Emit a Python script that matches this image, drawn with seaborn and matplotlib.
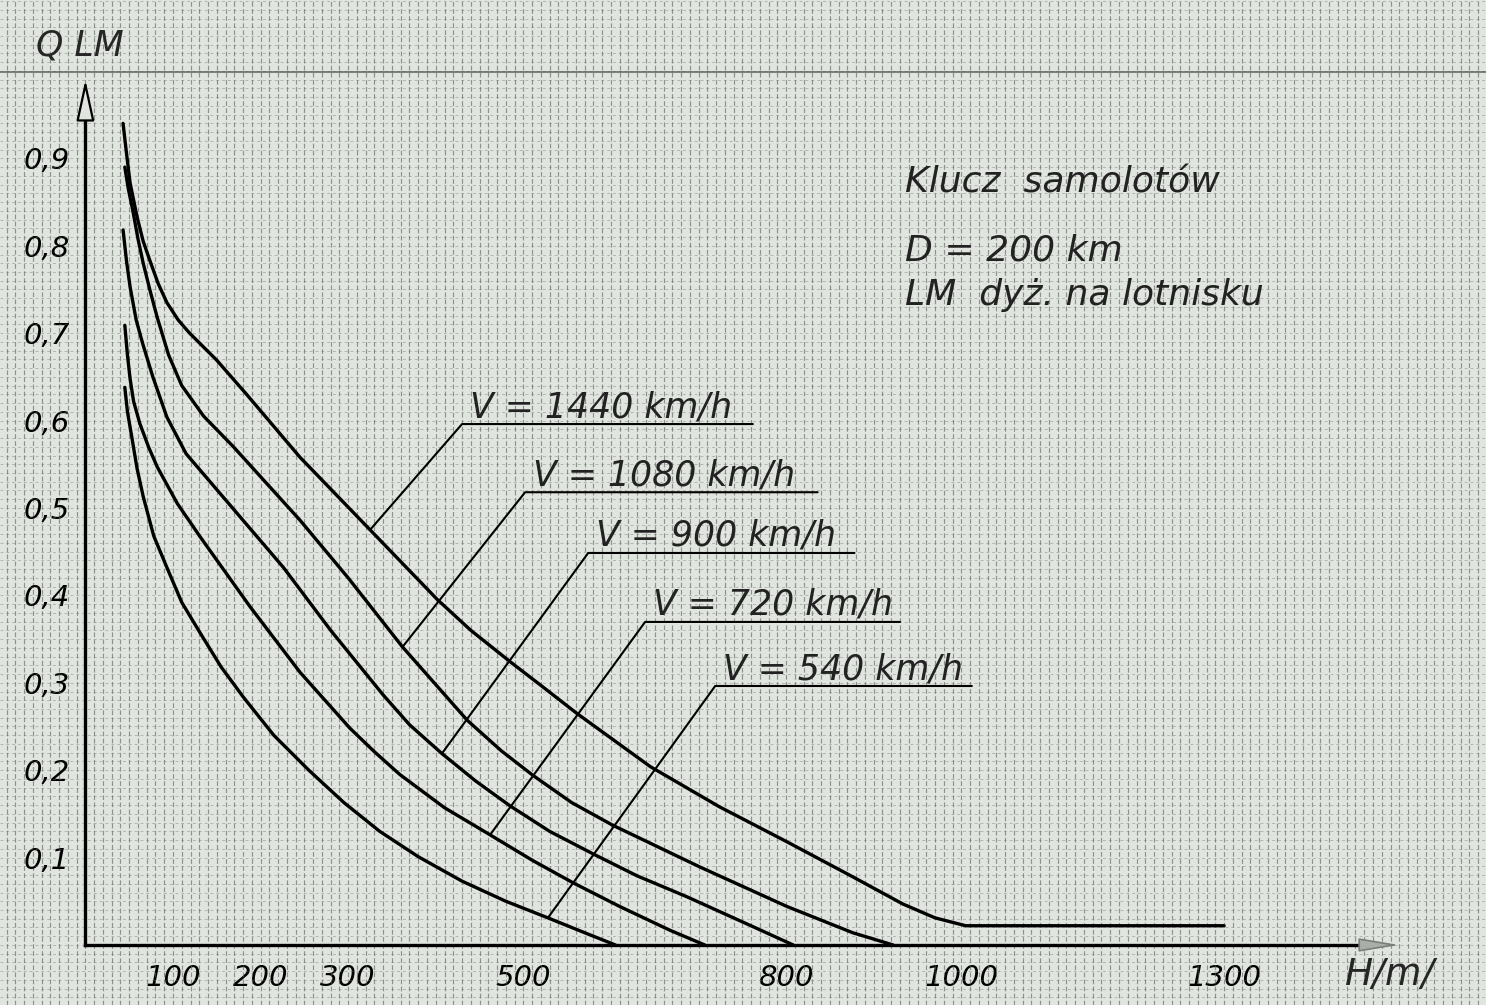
import numpy as np
import pandas as pd
import seaborn as sns
import matplotlib.pyplot as plt
from matplotlib.ticker import MultipleLocator

# Q_LM against H [m], one curve per aircraft speed
h_1440 = [43, 47, 51, 59, 66, 74, 83, 93, 106, 119, 150, 184, 245, 325, 402, 440, 485, 520, 561, 645, 724,
          801, 876, 933, 970, 1005, 1300]
q_1440 = [0.940, 0.905, 0.872, 0.833, 0.805, 0.782, 0.757, 0.735, 0.715, 0.700, 0.669, 0.630, 0.558, 0.475,
          0.395, 0.360, 0.324, 0.297, 0.265, 0.204, 0.158, 0.118, 0.078, 0.047, 0.031, 0.022, 0.022]

h_1080 = [45, 49, 54, 60, 66, 74, 82, 95, 110, 135, 169, 245, 300, 362, 436, 475, 511, 555, 602, 702, 801,
          876, 922]
q_1080 = [0.890, 0.865, 0.841, 0.808, 0.780, 0.748, 0.718, 0.675, 0.640, 0.605, 0.570, 0.486, 0.420, 0.341,
          0.257, 0.222, 0.194, 0.163, 0.137, 0.089, 0.044, 0.014, 0.0]

h_900 = [43, 47, 51, 58, 66, 77, 93, 115, 150, 226, 280, 340, 370, 407, 445, 485, 530, 580, 630, 687, 762, 808]
q_900 = [0.818, 0.782, 0.753, 0.715, 0.686, 0.650, 0.604, 0.562, 0.521, 0.432, 0.360, 0.286, 0.252, 0.219,
         0.188, 0.159, 0.130, 0.104, 0.079, 0.055, 0.021, 0.0]

h_720 = [45, 48, 51, 55, 62, 72, 82, 105, 131, 188, 245, 302, 330, 359, 410, 462, 510, 557, 610, 667, 707]
q_720 = [0.709, 0.675, 0.648, 0.622, 0.597, 0.570, 0.547, 0.505, 0.467, 0.387, 0.312, 0.248, 0.221, 0.195,
         0.157, 0.126, 0.097, 0.071, 0.044, 0.017, 0.0]

h_540 = [45, 48, 53, 59, 66, 78, 93, 110, 131, 155, 180, 215, 255, 295, 336, 380, 430, 480, 528, 570, 605]
q_540 = [0.638, 0.610, 0.581, 0.545, 0.513, 0.468, 0.432, 0.392, 0.357, 0.318, 0.284, 0.240, 0.200, 0.163,
         0.130, 0.101, 0.073, 0.050, 0.031, 0.014, 0.0]

speeds = ['V = 1440 km/h', 'V = 1080 km/h', 'V = 900 km/h', 'V = 720 km/h', 'V = 540 km/h']

# leader lines: point on curve -> start of underline, underline end
tip_h = [325, 362, 407, 462, 528]
tip_q = [0.475, 0.341, 0.219, 0.126, 0.031]
line_h0 = [430, 502, 574, 639, 719]
line_h1 = [762, 836, 878, 930, 1012]
line_q = [0.596, 0.518, 0.4485, 0.3696, 0.2963]

x_ticks = [100, 200, 300, 500, 800, 1000, 1300]
y_ticks = [0.1, 0.2, 0.3, 0.4, 0.5, 0.6, 0.7, 0.8, 0.9]
y_labels = ['0,1', '0,2', '0,3', '0,4', '0,5', '0,6', '0,7', '0,8', '0,9']

frames = []
for name, h, q in zip(speeds, [h_1440, h_1080, h_900, h_720, h_540], [q_1440, q_1080, q_900, q_720, q_540]):
    frames.append(pd.DataFrame({'H': h, 'Q': q, 'V': name}))
df = pd.concat(frames, ignore_index=True)

sns.set_theme(style="white")
plt.rcParams['font.family'] = ['DejaVu Sans']
plt.rcParams['font.style'] = 'italic'

paper = '#e1e5df'
fig = plt.figure(figsize=(14.86, 10.05), dpi=100, facecolor=paper)
ax = fig.add_axes([0, 0, 1, 1], facecolor=paper)

sns.lineplot(data=df, x='H', y='Q', units='V', estimator=None, sort=False,
             color='black', lw=2.4, ax=ax)

ax.set_xlim(-97.5, 1599)
ax.set_ylim(-0.0687, 1.0812)
ax.set_xlabel('')
ax.set_ylabel('')

# graph paper: vertical rulings come out darker on the scan
ax.xaxis.set_minor_locator(MultipleLocator(10))
ax.yaxis.set_minor_locator(MultipleLocator(0.01))
ax.grid(True, axis='x', which='both', color='#555c55', lw=0.85, ls=(0, (4, 2)), alpha=0.6)
ax.grid(True, axis='y', which='both', color='#6a716a', lw=0.7, ls=(0, (3, 3)), alpha=0.4)
ax.axhline(0.999, color='#4a504a', lw=1.2, alpha=0.8)
ax.set_axisbelow(True)

# axes drawn through the origin
for s in ['top', 'right']:
    ax.spines[s].set_visible(False)
for s in ['left', 'bottom']:
    ax.spines[s].set_position(('data', 0))
    ax.spines[s].set_linewidth(2.4)
    ax.spines[s].set_color('black')
ax.spines['left'].set_bounds(0, 0.955)
ax.spines['bottom'].set_bounds(0, 1455)

ax.annotate('', xy=(0, 0.99), xytext=(0, 0.955),
            arrowprops=dict(arrowstyle='-|>,head_length=1.6,head_width=0.35', lw=1.6,
                            color='black', fc=paper, mutation_scale=16, shrinkA=0, shrinkB=0))
ax.annotate('', xy=(1500, 0), xytext=(1455, 0),
            arrowprops=dict(arrowstyle='-|>,head_length=1.8,head_width=0.3', lw=1.2,
                            color='#7a7f7a', fc='#a9aea9', mutation_scale=14, shrinkA=0, shrinkB=0))

ax.set_xticks(x_ticks, [str(v) for v in x_ticks])
ax.set_yticks(y_ticks, y_labels)
ax.tick_params(which='minor', length=0)
ax.tick_params(axis='y', which='major', direction='out', length=10, width=1.3, pad=1,
               labelsize=21, colors='black')
ax.tick_params(axis='x', which='major', direction='out', length=5, width=2.5, pad=9,
               labelsize=21, colors='black')

# speed labels with leaders
for text, th, tq, h0, h1, q in zip(speeds, tip_h, tip_q, line_h0, line_h1, line_q):
    ax.plot([th, h0, h1], [tq, q, q], color='black', lw=1.5)
    ax.text(h0 + 9, q + 0.008, text, fontsize=25, ha='left', va='baseline', color='#222222')

ax.text(0.609, 0.818, 'Klucz  samolotów', transform=ax.transAxes, fontsize=26,
        ha='left', va='center', color='#222222')
ax.text(0.609, 0.751, 'D = 200 km', transform=ax.transAxes, fontsize=26,
        ha='left', va='center', color='#222222')
ax.text(0.609, 0.706, 'LM  dyż. na lotnisku', transform=ax.transAxes, fontsize=26,
        ha='left', va='center', color='#222222')

ax.text(0.024, 0.955, 'Q LM', transform=ax.transAxes, fontsize=25, ha='left', va='center')
ax.text(0.905, 0.030, 'H/m/', transform=ax.transAxes, fontsize=27, ha='left', va='center')

plt.savefig('out.png', dpi=100, facecolor=paper)
